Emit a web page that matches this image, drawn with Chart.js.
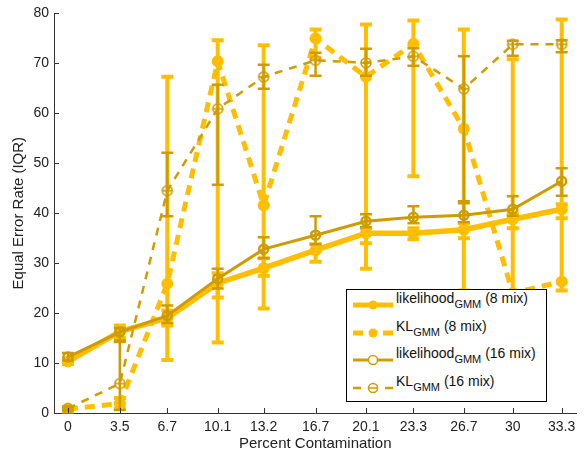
<!DOCTYPE html>
<html><head><meta charset="utf-8">
<script src="https://cdn.jsdelivr.net/npm/chart.js@4"></script>
<style>
html,body{margin:0;padding:0;background:#fff;}
#wrap{position:relative;width:585px;height:453px;}
#legend{position:absolute;left:346px;top:289px;width:201px;height:113px;box-sizing:border-box;border:1px solid #000;background:#fff;font-family:"Liberation Sans",Arial,sans-serif;font-size:14px;color:#111;}
#legend svg{position:absolute;left:6px;}
#legend .t{position:absolute;left:49px;white-space:nowrap;line-height:16px;}
#legend sub{font-size:11px;vertical-align:-5px;line-height:0;}
</style></head>
<body>
<div id="wrap">
<canvas id="c" width="585" height="453"></canvas>
<div id="legend"></div>
</div>
<script>
const xVals = [0, 3.5, 6.7, 10.1, 13.2, 16.7, 20.1, 23.3, 26.7, 30, 33.3];
const xTickLabels = ["0","3.5","6.7","10.1","13.2","16.7","20.1","23.3","26.7","30","33.3"];
const yTicks = [0,10,20,30,40,50,60,70,80];

// likelihood_GMM (8 mix)
const lik8 =      [10.3, 16.3, 19.0, 26.0, 29.0, 32.6, 36.0, 36.0, 36.7, 38.8, 40.8];
const lik8Low =   [9.8, 15.0, 17.5, 23.1, 27.5, 30.3, 34.0, 34.8, 35.0, 37.0, 39.0];
const lik8High =  [10.8, 17.5, 20.5, 28.0, 31.0, 33.8, 37.0, 37.0, 38.0, 40.0, 41.8];
// KL_GMM (8 mix)
const kl8 =       [0.8, 1.9, 25.9, 70.4, 41.6, 75.0, 67.3, 73.9, 56.9, 24.0, 26.3];
const kl8Low =    [0.3, 0.8, 10.6, 14.1, 20.9, 71.0, 28.9, 47.4, 24.5, 22.0, 24.5];
const kl8High =   [1.2, 3.0, 67.3, 74.6, 73.6, 76.8, 77.8, 78.6, 76.8, 70.8, 78.8];
// likelihood_GMM (16 mix)
const lik16 =     [11.2, 16.2, 19.5, 26.9, 32.8, 35.6, 38.4, 39.2, 39.6, 40.8, 46.4];
const lik16Low =  [10.5, 14.2, 18.0, 24.9, 31.0, 33.8, 37.2, 38.0, 38.2, 39.5, 43.5];
const lik16High = [12.0, 17.0, 21.5, 28.9, 35.2, 39.4, 39.8, 41.4, 42.4, 43.4, 49.0];
// KL_GMM (16 mix)
const kl16 =      [0.9, 5.9, 44.5, 60.9, 67.3, 70.6, 70.1, 71.4, 64.9, 73.8, 73.8];
const kl16Low =   [0.5, 0.6, 39.4, 45.7, 64.9, 67.5, 67.5, 69.5, 42.0, 71.5, 72.2];
const kl16High =  [1.3, 14.5, 52.1, 65.7, 69.7, 72.1, 72.9, 73.0, 71.4, 74.5, 74.6];

const LIGHT = '#FFBF00';
const DARK = '#CE9C00';
const FONT = '"Liberation Sans", Arial, sans-serif';

function pts(arr){ return xVals.map((x,i)=>({x:x, y:arr[i]})); }

function thetaMarker(color){
  const c=document.createElement('canvas'); c.width=14; c.height=14;
  const g=c.getContext('2d'); g.strokeStyle=color; g.lineWidth=1.6;
  g.beginPath(); g.arc(7,7,5,0,Math.PI*2); g.stroke();
  g.beginPath(); g.moveTo(2,7); g.lineTo(12,7); g.stroke();
  return c;
}

const errorBars = {
  id:'errorBars',
  beforeDatasetDraw(chart, args){
    const ds = chart.data.datasets[args.index];
    if(!ds.errLow) return;
    const xs=chart.scales.x, ys=chart.scales.y, ctx=chart.ctx;
    const cw = ds.capHalf;
    ctx.save();
    ctx.strokeStyle = ds.borderColor; ctx.lineWidth = ds.errWidth; ctx.setLineDash([]); ctx.lineCap='butt';
    ds.data.forEach((p,i)=>{
      const x=xs.getPixelForValue(p.x);
      const y1=ys.getPixelForValue(ds.errLow[i]);
      const y2=ys.getPixelForValue(ds.errHigh[i]);
      ctx.beginPath();
      ctx.moveTo(x,y1); ctx.lineTo(x,y2);
      ctx.moveTo(x-cw,y1); ctx.lineTo(x+cw,y1);
      ctx.moveTo(x-cw,y2); ctx.lineTo(x+cw,y2);
      ctx.stroke();
    });
    ctx.restore();
  }
};

const inTicks = {
  id:'inTicks',
  afterDraw(chart){
    const ctx=chart.ctx, a=chart.chartArea, xs=chart.scales.x, ys=chart.scales.y;
    ctx.save(); ctx.strokeStyle='#333'; ctx.lineWidth=1;
    ctx.beginPath();
    xs.ticks.forEach(t=>{ const x=Math.round(xs.getPixelForValue(t.value))+0.5; ctx.moveTo(x,a.bottom); ctx.lineTo(x,a.bottom-5); });
    ys.ticks.forEach(t=>{ const y=Math.round(ys.getPixelForValue(t.value))+0.5; ctx.moveTo(a.left,y); ctx.lineTo(a.left+5,y); });
    ctx.stroke(); ctx.restore();
  }
};

new Chart(document.getElementById('c'), {
  type:'line',
  data:{ datasets:[
    { label:'likelihood GMM (8 mix)', data:pts(lik8), errLow:lik8Low, errHigh:lik8High, errWidth:4, capHalf:6,
      borderColor:LIGHT, backgroundColor:LIGHT, borderWidth:5.5, pointRadius:6, pointBackgroundColor:LIGHT, pointBorderWidth:0, order:4, tension:0 },
    { label:'KL GMM (8 mix)', data:pts(kl8), errLow:kl8Low, errHigh:kl8High, errWidth:4, capHalf:6,
      borderColor:LIGHT, backgroundColor:LIGHT, borderWidth:5, borderDash:[10,7], pointRadius:6, pointBackgroundColor:LIGHT, pointBorderWidth:0, order:3, tension:0 },
    { label:'likelihood GMM (16 mix)', data:pts(lik16), errLow:lik16Low, errHigh:lik16High, errWidth:2.5, capHalf:6,
      borderColor:DARK, backgroundColor:'rgba(0,0,0,0)', borderWidth:3, pointRadius:4.5, pointBorderColor:DARK, pointBackgroundColor:'rgba(0,0,0,0)', pointBorderWidth:2.5, order:2, tension:0 },
    { label:'KL GMM (16 mix)', data:pts(kl16), errLow:kl16Low, errHigh:kl16High, errWidth:2.5, capHalf:6,
      borderColor:DARK, backgroundColor:DARK, borderWidth:2.5, borderDash:[8,7], pointStyle:thetaMarker(DARK), pointRadius:6, order:1, tension:0 }
  ]},
  options:{
    responsive:false, animation:false, devicePixelRatio:1,
    layout:{padding:{left:0,right:8,top:11,bottom:0}},
    plugins:{legend:{display:false}, tooltip:{enabled:false}},
    scales:{
      x:{ type:'linear', min:-0.94, max:34.3,
        afterBuildTicks:s=>{ s.ticks = xVals.map(v=>({value:v})); },
        afterFit:s=>{ s.height = 40; },
        ticks:{ autoSkip:false, maxRotation:0, padding:6, color:'#222', font:{family:FONT,size:14},
          callback:(v)=>{ const i=xVals.indexOf(v); return i>=0?xTickLabels[i]:''; } },
        grid:{ display:true, drawOnChartArea:false, drawTicks:false },
        border:{ color:'#333', width:1 },
        title:{ display:true, text:'Percent Contamination', color:'#222', font:{family:FONT,size:15}, padding:{top:2,bottom:0} }
      },
      y:{ min:0, max:80,
        afterBuildTicks:s=>{ s.ticks = yTicks.map(v=>({value:v})); },
        afterFit:s=>{ s.width = 54; },
        ticks:{ padding:5, color:'#222', font:{family:FONT,size:14} },
        grid:{ display:true, drawOnChartArea:false, drawTicks:false },
        border:{ color:'#333', width:1 },
        title:{ display:true, text:'Equal Error Rate (IQR)', color:'#222', font:{family:FONT,size:15}, padding:{top:10,bottom:0} }
      }
    }
  },
  plugins:[errorBars, inTicks]
});

// legend (HTML, real text)
const legendRows = [
  { main:'likelihood', sub:'GMM', tail:' (8 mix)', svg:`<line x1="0" y1="10" x2="40" y2="10" stroke="${LIGHT}" stroke-width="5"/><circle cx="20" cy="10" r="4.5" fill="${LIGHT}"/>` },
  { main:'KL', sub:'GMM', tail:' (8 mix)', svg:`<line x1="0" y1="10" x2="10" y2="10" stroke="${LIGHT}" stroke-width="5"/><line x1="30" y1="10" x2="40" y2="10" stroke="${LIGHT}" stroke-width="5"/><circle cx="20" cy="10" r="4.5" fill="${LIGHT}"/>` },
  { main:'likelihood', sub:'GMM', tail:' (16 mix)', svg:`<line x1="0" y1="10" x2="40" y2="10" stroke="${DARK}" stroke-width="3"/><circle cx="20" cy="10" r="4.5" fill="#fff" stroke="${DARK}" stroke-width="1.5"/>` },
  { main:'KL', sub:'GMM', tail:' (16 mix)', svg:`<line x1="0" y1="10" x2="8" y2="10" stroke="${DARK}" stroke-width="2.5"/><line x1="32" y1="10" x2="40" y2="10" stroke="${DARK}" stroke-width="2.5"/><circle cx="20" cy="10" r="4.5" fill="#fff" stroke="${DARK}" stroke-width="1.5"/><line x1="15.5" y1="10" x2="24.5" y2="10" stroke="${DARK}" stroke-width="1.5"/>` }
];
const lineY = [15, 43, 70, 98];
const leg = document.getElementById('legend');
legendRows.forEach((r,i)=>{
  const s = document.createElementNS('http://www.w3.org/2000/svg','svg');
  s.setAttribute('width','40'); s.setAttribute('height','20');
  s.style.top = (lineY[i]-10)+'px';
  s.innerHTML = r.svg;
  leg.appendChild(s);
  const t = document.createElement('div');
  t.className='t';
  t.style.top = (lineY[i]-15)+'px';
  t.innerHTML = r.main + '<sub>' + r.sub + '</sub>' + r.tail;
  leg.appendChild(t);
});
</script>
</body></html>
